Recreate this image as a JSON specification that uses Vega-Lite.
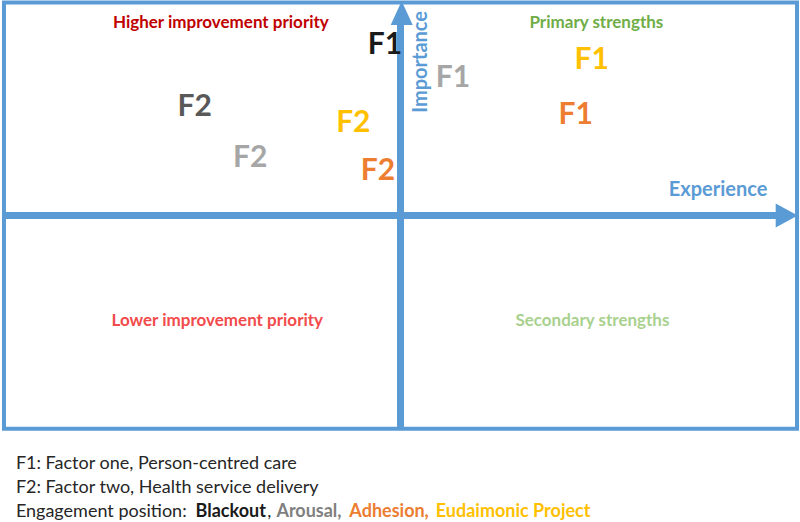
{
  "$schema": "https://vega.github.io/schema/vega-lite/v6.json",
  "width": 800,
  "height": 522,
  "autosize": {"type": "fit", "contains": "padding"},
  "padding": 0,
  "background": "white",
  "config": {"view": {"stroke": null}, "text": {"font": "Lato"}},
  "resolve": {"scale": {"color": "independent"}},
  "datasets": {
    "frame": [{"x1": -100, "x2": 100, "y1": -100, "y2": 100}],
    "axislines": [
      {"line": "Experience", "x1": -100, "x2": 94.7, "y1": 0, "y2": 0},
      {"line": "Importance", "x1": 0, "x2": 0, "y1": -100, "y2": 90.4}
    ],
    "heads": [
      {"line": "Experience", "x": 97.4, "y": 0},
      {"line": "Importance", "x": 0.3, "y": 95.1}
    ],
    "factors": [
      {"label": "F1", "engagement": "Blackout", "experience": -3.9, "importance": 80.1},
      {"label": "F1", "engagement": "Arousal", "experience": 13.2, "importance": 64.6},
      {"label": "F1", "engagement": "Eudaimonic Project", "experience": 48.2, "importance": 73.1},
      {"label": "F1", "engagement": "Adhesion", "experience": 44.2, "importance": 47.3},
      {"label": "F2", "engagement": "Blackout", "experience": -51.9, "importance": 51.1},
      {"label": "F2", "engagement": "Eudaimonic Project", "experience": -11.9, "importance": 43.6},
      {"label": "F2", "engagement": "Arousal", "experience": -37.9, "importance": 27.2},
      {"label": "F2", "engagement": "Adhesion", "experience": -5.7, "importance": 21.1}
    ],
    "quadrants": [
      {"text": "Higher improvement priority", "x": -45.3, "y": 90.4},
      {"text": "Primary strengths", "x": 49.4, "y": 90.4},
      {"text": "Lower improvement priority", "x": -46.2, "y": -49.6},
      {"text": "Secondary strengths", "x": 48.4, "y": -49.6}
    ],
    "notes": [
      {"text": "F1: Factor one, Person-centred care", "x": -97.0, "y": -116.6, "part": "plain", "bold": false},
      {"text": "F2: Factor two, Health service delivery", "x": -97.0, "y": -127.9, "part": "plain", "bold": false},
      {"text": "Engagement position:", "x": -97.0, "y": -139.1, "part": "plain", "bold": false},
      {"text": "Blackout", "x": -51.7, "y": -139.1, "part": "Blackout", "bold": true},
      {"text": ",", "x": -33.6, "y": -139.1, "part": "plain", "bold": false},
      {"text": "Arousal,", "x": -31.3, "y": -139.1, "part": "Arousal", "bold": true},
      {"text": "Adhesion,", "x": -12.9, "y": -139.1, "part": "Adhesion", "bold": true},
      {"text": "Eudaimonic Project", "x": 8.9, "y": -139.1, "part": "Eudaimonic Project", "bold": true}
    ]
  },
  "layer": [
    {
      "data": {"name": "frame"},
      "mark": {"type": "rect", "fill": "transparent", "stroke": "#5b9bd5", "strokeWidth": 4},
      "encoding": {
        "x": {"field": "x1", "type": "quantitative", "scale": {"domain": [-100.5, 100.75], "nice": false, "zero": false}, "axis": null},
        "x2": {"field": "x2"},
        "y": {"field": "y1", "type": "quantitative", "scale": {"domain": [-143.8, 100.7], "nice": false, "zero": false}, "axis": null},
        "y2": {"field": "y2"}
      }
    },
    {
      "data": {"name": "axislines"},
      "mark": {"type": "rule", "color": "#5b9bd5", "strokeWidth": 7},
      "encoding": {
        "x": {"field": "x1", "type": "quantitative", "axis": null},
        "x2": {"field": "x2"},
        "y": {"field": "y1", "type": "quantitative", "axis": null},
        "y2": {"field": "y2"}
      }
    },
    {
      "data": {"name": "heads"},
      "transform": [{"filter": "datum.line == 'Experience'"}],
      "mark": {"type": "point", "filled": true, "opacity": 1, "color": "#5b9bd5", "shape": "M-0.917,-1L0.917,0L-0.917,1Z", "size": 576},
      "encoding": {
        "x": {"field": "x", "type": "quantitative", "axis": null},
        "y": {"field": "y", "type": "quantitative", "axis": null}
      }
    },
    {
      "data": {"name": "heads"},
      "transform": [{"filter": "datum.line == 'Importance'"}],
      "mark": {"type": "point", "filled": true, "opacity": 1, "color": "#5b9bd5", "shape": "M0,-1L0.917,1L-0.917,1Z", "size": 576},
      "encoding": {
        "x": {"field": "x", "type": "quantitative", "axis": null},
        "y": {"field": "y", "type": "quantitative", "axis": null}
      }
    },
    {
      "data": {"name": "factors"},
      "mark": {"type": "text", "fontSize": 30, "fontWeight": "bold", "baseline": "middle", "align": "center"},
      "encoding": {
        "x": {"field": "experience", "type": "quantitative", "axis": null},
        "y": {"field": "importance", "type": "quantitative", "axis": null},
        "text": {"field": "label"},
        "color": {
          "condition": {"test": "datum.label == 'F2' && datum.engagement == 'Blackout'", "value": "#595959"},
          "field": "engagement", "type": "nominal",
          "scale": {"domain": ["Blackout", "Arousal", "Adhesion", "Eudaimonic Project"], "range": ["#1a1a1a", "#a6a6a6", "#ed7d31", "#ffc000"]},
          "legend": null
        }
      }
    },
    {
      "data": {"name": "quadrants"},
      "mark": {"type": "text", "fontSize": 17, "fontWeight": "bold", "baseline": "middle", "align": "center"},
      "encoding": {
        "x": {"field": "x", "type": "quantitative", "axis": null},
        "y": {"field": "y", "type": "quantitative", "axis": null},
        "text": {"field": "text"},
        "color": {
          "field": "text", "type": "nominal",
          "scale": {"domain": ["Higher improvement priority", "Primary strengths", "Lower improvement priority", "Secondary strengths"], "range": ["#c00000", "#70ad47", "#f24b4b", "#a9d18e"]},
          "legend": null
        }
      }
    },
    {
      "data": {"values": [{"text": "Experience", "x": 80.1, "y": 12.2}]},
      "mark": {"type": "text", "fontSize": 20, "fontWeight": "bold", "baseline": "middle", "align": "center", "color": "#5b9bd5"},
      "encoding": {
        "x": {"field": "x", "type": "quantitative", "axis": null},
        "y": {"field": "y", "type": "quantitative", "axis": null},
        "text": {"field": "text"}
      }
    },
    {
      "data": {"values": [{"text": "Importance", "x": 5.2, "y": 72.1}]},
      "mark": {"type": "text", "fontSize": 20, "fontWeight": "bold", "baseline": "middle", "align": "center", "angle": 270, "color": "#5b9bd5"},
      "encoding": {
        "x": {"field": "x", "type": "quantitative", "axis": null},
        "y": {"field": "y", "type": "quantitative", "axis": null},
        "text": {"field": "text"}
      }
    },
    {
      "data": {"name": "notes"},
      "transform": [{"filter": "!datum.bold"}],
      "mark": {"type": "text", "fontSize": 18, "baseline": "middle", "align": "left", "color": "#262626"},
      "encoding": {
        "x": {"field": "x", "type": "quantitative", "axis": null},
        "y": {"field": "y", "type": "quantitative", "axis": null},
        "text": {"field": "text"}
      }
    },
    {
      "data": {"name": "notes"},
      "transform": [{"filter": "datum.bold"}],
      "mark": {"type": "text", "fontSize": 18, "fontWeight": "bold", "baseline": "middle", "align": "left"},
      "encoding": {
        "x": {"field": "x", "type": "quantitative", "axis": null},
        "y": {"field": "y", "type": "quantitative", "axis": null},
        "text": {"field": "text"},
        "color": {
          "field": "part", "type": "nominal",
          "scale": {"domain": ["Blackout", "Arousal", "Adhesion", "Eudaimonic Project"], "range": ["#1a1a1a", "#7f7f7f", "#ed7d31", "#ffc000"]},
          "legend": null
        }
      }
    }
  ]
}
